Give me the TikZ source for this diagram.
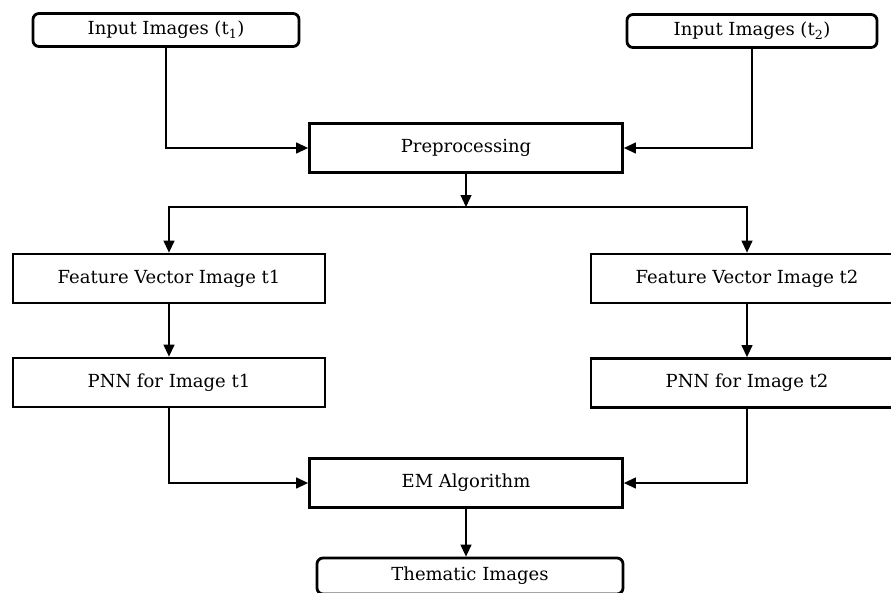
\documentclass[tikz,border=0pt]{standalone}
\usepackage{fontspec}
\setmainfont{DejaVu Serif}
\usetikzlibrary{arrows.meta}
\begin{document}
\begin{tikzpicture}[x=1pt,y=1pt,
    box/.style={rectangle,draw,line width=2.8pt,minimum width=312pt,minimum height=49pt,
        font=\fontsize{18}{21}\selectfont},
    roundbox/.style={rectangle,rounded corners=6pt,draw,line width=2.8pt,minimum height=33pt,
        font=\fontsize{18}{21}\selectfont},
    >={Triangle[length=12pt,width=11pt]}]
                \useasboundingbox (0,0) rectangle (891,-592);
                \node[roundbox,minimum width=266pt] (1) at(166,-30){Input Images (t\textsubscript{1})};
                \node[roundbox,minimum width=250pt] (2) at(752,-31){Input Images (t\textsubscript{2})};
                \node[box,minimum width=313pt] (3) at(466,-148){Preprocessing};
                \node[box] (4) at(169,-278.5){Feature Vector Image t1};
                \node[box] (5) at(747,-278.5){Feature Vector Image t2};
                \node[box] (6) at(169,-382.5){PNN for Image t1};
                \node[box] (7) at(747,-383){PNN for Image t2};
                \node[box,minimum width=313pt] (8) at(466,-483){EM Algorithm};
                \node[roundbox,minimum width=306pt,minimum height=36pt] (9) at(470,-576){Thematic Images};
                \coordinate (s) at(466,-207);
                \draw[line width=1.3pt,->] (1) |-(3);
                \draw[line width=1.3pt,->] (2) |-(3);
                \draw[line width=1.3pt,->] (3) --(s);
                \draw[line width=1.3pt,->] (s) -|(4);
                \draw[line width=1.3pt,->] (s) -|(5);
                \draw[line width=1.3pt,->] (4) --(6);
                \draw[line width=1.3pt,->] (5) --(7);
                \draw[line width=1.3pt,->] (6) |-(8);
                \draw[line width=1.3pt,->] (7) |-(8);
                \draw[line width=1.3pt,->] (8) --(8.south |- 9.north);
            \end{tikzpicture}
\end{document}
